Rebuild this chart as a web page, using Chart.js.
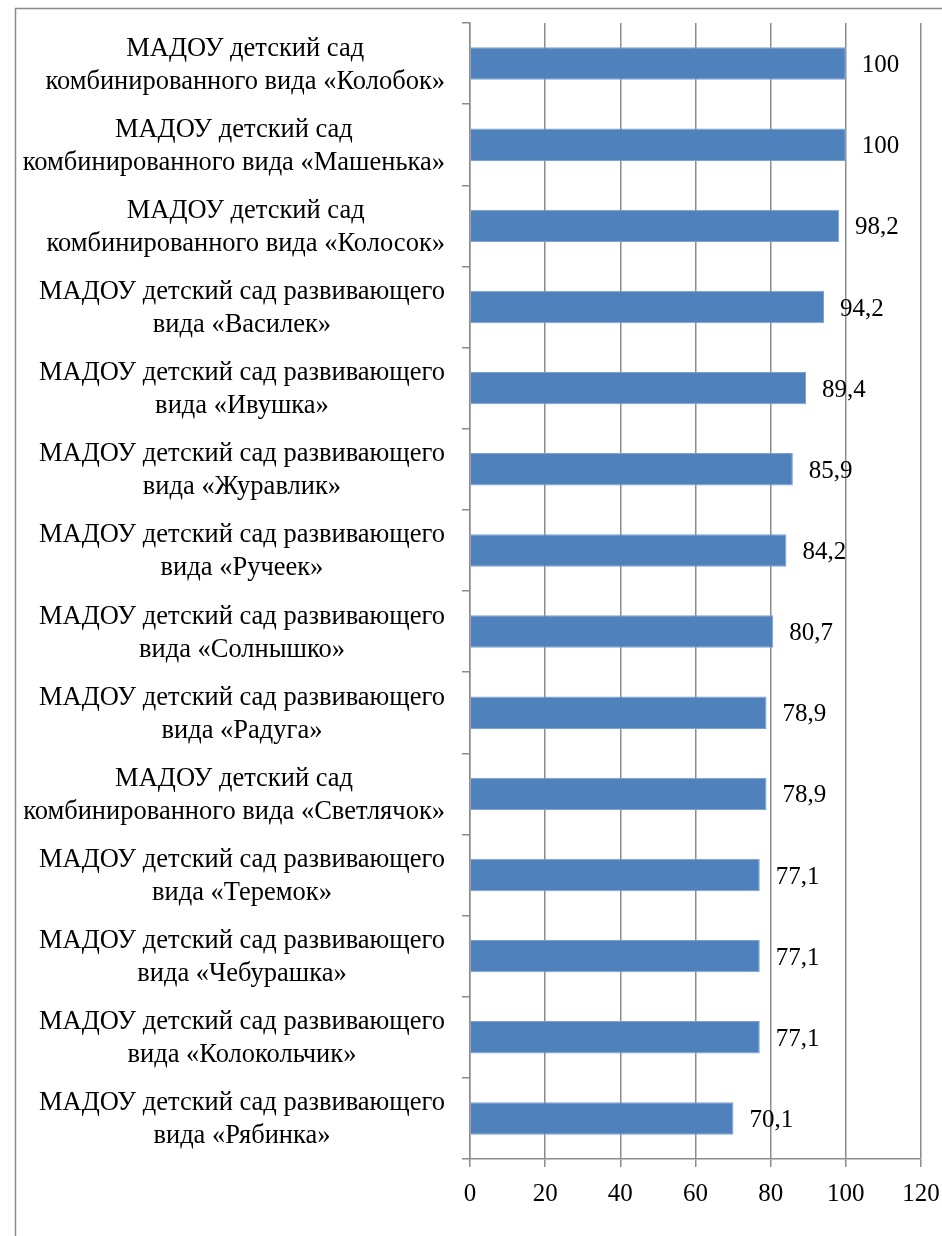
<!DOCTYPE html>
<html lang="ru">
<head>
<meta charset="utf-8">
<title>МАДОУ</title>
<script src="https://cdn.jsdelivr.net/npm/chart.js@4/dist/chart.umd.min.js"></script>
<style>
    html, body { margin: 0; padding: 0; background: #fff; }
    #wrap { width: 942px; height: 1236px; }
</style>
</head>
<body>
<div id="wrap"><canvas id="barChart" width="942" height="1236"></canvas></div>
<script>
// Chart data
const kindergartens = [
    ['МАДОУ детский сад', 'комбинированного вида «Колобок»'],
    ['МАДОУ детский сад', 'комбинированного вида «Машенька»'],
    ['МАДОУ детский сад', 'комбинированного вида «Колосок»'],
    ['МАДОУ детский сад развивающего', 'вида «Василек»'],
    ['МАДОУ детский сад развивающего', 'вида «Ивушка»'],
    ['МАДОУ детский сад развивающего', 'вида «Журавлик»'],
    ['МАДОУ детский сад развивающего', 'вида «Ручеек»'],
    ['МАДОУ детский сад развивающего', 'вида «Солнышко»'],
    ['МАДОУ детский сад развивающего', 'вида «Радуга»'],
    ['МАДОУ детский сад', 'комбинированного вида «Светлячок»'],
    ['МАДОУ детский сад развивающего', 'вида «Теремок»'],
    ['МАДОУ детский сад развивающего', 'вида «Чебурашка»'],
    ['МАДОУ детский сад развивающего', 'вида «Колокольчик»'],
    ['МАДОУ детский сад развивающего', 'вида «Рябинка»']
];
const percentValues = [100, 100, 98.2, 94.2, 89.4, 85.9, 84.2, 80.7, 78.9, 78.9, 77.1, 77.1, 77.1, 70.1];
const xTickValues = [0, 20, 40, 60, 80, 100, 120];

const FONT = '"Liberation Serif", "Times New Roman", serif';
const GRID = '#8c8c8c';

// outer frame of the picture
const framePlugin = {
    id: 'frame',
    beforeDraw(chart) {
        const ctx = chart.ctx;
        ctx.save();
        ctx.strokeStyle = '#8a8a8a';
        ctx.lineWidth = 1.5;
        ctx.strokeRect(15.5, 8.5, 1000, 1400);
        ctx.restore();
    }
};

// category names: each block right-aligned, lines centred inside the block
const categoryLabels = {
    id: 'categoryLabels',
    afterDraw(chart) {
        const ctx = chart.ctx;
        const yScale = chart.scales.y;
        const rightEdge = yScale.right - 25;
        const lineGap = 33;
        ctx.save();
        ctx.font = '26.5px ' + FONT;
        ctx.fillStyle = '#000';
        ctx.textAlign = 'center';
        ctx.textBaseline = 'middle';
        kindergartens.forEach((lines, i) => {
            const y = yScale.getPixelForTick(i) + 1.5;
            const w = Math.max(...lines.map(l => ctx.measureText(l).width));
            const cx = rightEdge - w / 2;
            const y0 = y - (lines.length - 1) * lineGap / 2;
            lines.forEach((l, k) => ctx.fillText(l, cx, y0 + k * lineGap));
        });
        ctx.restore();
    }
};

// value labels right of each bar
const valueLabels = {
    id: 'valueLabels',
    afterDatasetsDraw(chart) {
        const ctx = chart.ctx;
        const meta = chart.getDatasetMeta(0);
        ctx.save();
        ctx.font = '25px ' + FONT;
        ctx.fillStyle = '#000';
        ctx.textAlign = 'left';
        ctx.textBaseline = 'middle';
        meta.data.forEach((bar, i) => {
            const txt = String(percentValues[i]).replace('.', ',');
            ctx.fillText(txt, bar.x + 16, bar.y + 2);
        });
        ctx.restore();
    }
};

new Chart(document.getElementById('barChart'), {
    type: 'bar',
    data: {
        labels: kindergartens,
        datasets: [{
            data: percentValues,
            backgroundColor: '#4f81bd',
            borderColor: '#7ea1cf',
            borderWidth: 1,
            categoryPercentage: 1,
            barPercentage: 0.4
        }]
    },
    options: {
        indexAxis: 'y',
        responsive: false,
        animation: false,
        devicePixelRatio: 1,
        layout: { padding: { left: 0, top: 23, right: 21, bottom: 0 } },
        plugins: {
            legend: { display: false },
            tooltip: { enabled: false }
        },
        scales: {
            x: {
                min: 0,
                max: 120,
                afterBuildTicks(scale) {
                    scale.ticks = xTickValues.map(v => ({ value: v }));
                },
                afterFit(scale) {
                    scale.height = 77;
                    scale.paddingLeft = 0;
                    scale.paddingRight = 0;
                },
                grid: {
                    color: GRID,
                    lineWidth: 1.5,
                    tickLength: 8,
                    drawTicks: true
                },
                border: { color: GRID, width: 1.5 },
                ticks: {
                    color: '#000',
                    padding: 12,
                    font: { family: FONT, size: 25 }
                }
            },
            y: {
                afterFit(scale) {
                    scale.width = 470;
                    scale.paddingTop = 0;
                    scale.paddingBottom = 0;
                },
                grid: {
                    offset: true,
                    drawOnChartArea: false,
                    color: GRID,
                    lineWidth: 1.5,
                    tickLength: 8
                },
                border: { color: GRID, width: 1.5 },
                ticks: { display: false }
            }
        }
    },
    plugins: [framePlugin, valueLabels, categoryLabels]
});
</script>
</body>
</html>
